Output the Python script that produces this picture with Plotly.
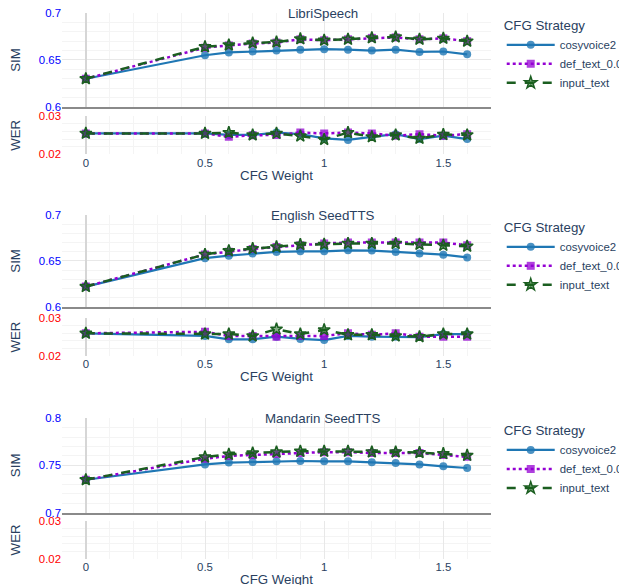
import plotly.graph_objects as go

cfg_weights = [0, 0.5, 0.6, 0.7, 0.8, 0.9, 1.0, 1.1, 1.2, 1.3, 1.4, 1.5, 1.6]
datasets = ["LibriSpeech", "English SeedTTS", "Mandarin SeedTTS"]
strategies = ["cosyvoice2", "def_text_0.08", "input_text"]

# LibriSpeech
libri_sim_cosyvoice2 = [0.630, 0.655, 0.658, 0.659, 0.660, 0.661, 0.6615, 0.661, 0.660, 0.661, 0.6585, 0.659, 0.656]
libri_sim_def_text = [0.630, 0.663, 0.6655, 0.6675, 0.6685, 0.672, 0.671, 0.672, 0.6735, 0.674, 0.672, 0.673, 0.670]
libri_sim_input_text = [0.630, 0.664, 0.666, 0.668, 0.669, 0.6725, 0.671, 0.672, 0.6735, 0.6745, 0.672, 0.673, 0.670]
libri_wer_cosyvoice2 = [0.0255, 0.0255, 0.0251, 0.0251, 0.0257, 0.0253, 0.0242, 0.0238, 0.0246, 0.0253, 0.0240, 0.0249, 0.0240]
libri_wer_def_text = [0.0255, 0.0255, 0.0246, 0.0250, 0.0251, 0.0257, 0.0255, 0.0257, 0.0255, 0.0249, 0.0253, 0.0249, 0.0253]
libri_wer_input_text = [0.0255, 0.0255, 0.0257, 0.0251, 0.0255, 0.0248, 0.0239, 0.0257, 0.0246, 0.0251, 0.0242, 0.0252, 0.0251]

# English SeedTTS
en_sim_cosyvoice2 = [0.622, 0.653, 0.6557, 0.658, 0.6598, 0.6604, 0.6604, 0.6615, 0.6612, 0.6598, 0.658, 0.6568, 0.6538]
en_sim_def_text = [0.622, 0.657, 0.660, 0.663, 0.665, 0.667, 0.669, 0.670, 0.670, 0.670, 0.670, 0.670, 0.667]
en_sim_input_text = [0.622, 0.657, 0.661, 0.6634, 0.6653, 0.6678, 0.668, 0.669, 0.669, 0.669, 0.668, 0.667, 0.666]
en_wer_cosyvoice2 = [0.0260, 0.0253, 0.0244, 0.0244, 0.0251, 0.0245, 0.0242, 0.0253, 0.0251, 0.0251, 0.0250, 0.0258, 0.0258]
en_wer_def_text = [0.0260, 0.0264, 0.0253, 0.0253, 0.0251, 0.0253, 0.0253, 0.0260, 0.0256, 0.0260, 0.0251, 0.0251, 0.0251]
en_wer_input_text = [0.0260, 0.0258, 0.0258, 0.0253, 0.0271, 0.0258, 0.0269, 0.0256, 0.0256, 0.0253, 0.0251, 0.0258, 0.0258]

# Mandarin SeedTTS (no WER values visible in the 0.02-0.03 window)
zh_sim_cosyvoice2 = [0.7348, 0.751, 0.7529, 0.7535, 0.7543, 0.7546, 0.7543, 0.7543, 0.7532, 0.7525, 0.751, 0.749, 0.7472]
zh_sim_def_text = [0.7348, 0.757, 0.760, 0.761, 0.762, 0.763, 0.764, 0.764, 0.763, 0.763, 0.763, 0.761, 0.759]
zh_sim_input_text = [0.7348, 0.7588, 0.7617, 0.7631, 0.7642, 0.7649, 0.7649, 0.7649, 0.7642, 0.7642, 0.7635, 0.7624, 0.7606]

sim_data = [
    [libri_sim_cosyvoice2, libri_sim_def_text, libri_sim_input_text],
    [en_sim_cosyvoice2, en_sim_def_text, en_sim_input_text],
    [zh_sim_cosyvoice2, zh_sim_def_text, zh_sim_input_text],
]
wer_data = [
    [libri_wer_cosyvoice2, libri_wer_def_text, libri_wer_input_text],
    [en_wer_cosyvoice2, en_wer_def_text, en_wer_input_text],
    None,
]
sim_ranges = [[0.6, 0.7], [0.6, 0.7], [0.7, 0.8]]
wer_range = [0.02, 0.03]

styles = [
    dict(line=dict(color="#1f77b4", width=2.2, dash="solid"),
         marker=dict(symbol="circle", size=8, color="rgba(31,119,180,0.8)")),
    dict(line=dict(color="darkviolet", width=2.5, dash="dot"),
         marker=dict(symbol="square", size=8, color="rgba(148,0,211,0.75)")),
    dict(line=dict(color="#1b5e20", width=2.5, dash="dash"),
         marker=dict(symbol="star", size=9, color="rgba(20,100,20,0.5)",
                     line=dict(color="#1b5e20", width=1.5))),
]

# domains (paper coords) for SIM / WER rows of each panel
sim_domains = [[0.828, 1.0], [0.462, 0.630], [0.085, 0.258]]
wer_domains = [[0.741, 0.811], [0.372, 0.441], [0.0, 0.070]]

FONT = "Liberation Sans, Arial, sans-serif"
TXT = "#2a3f5f"
GRID = "#e8e8e8"
MINOR = "#f4f4f4"
ZERO = "#d6d6d6"

fig = go.Figure()
layout = dict(
    width=627, height=585,
    margin=dict(l=54, r=144, t=5, b=34, autoexpand=False),
    paper_bgcolor="white", plot_bgcolor="white",
    font=dict(family=FONT, size=11.4, color=TXT),
    annotations=[],
)

legend_names = ["legend", "legend2", "legend3"]

for p in range(3):
    sx = 2 * p + 1
    wx = 2 * p + 2
    sx_name = "x" if sx == 1 else f"x{sx}"
    sy_name = "y" if sx == 1 else f"y{sx}"
    wx_name = f"x{wx}"
    wy_name = f"y{wx}"
    for s in range(3):
        fig.add_trace(go.Scatter(
            x=cfg_weights, y=sim_data[p][s], mode="lines+markers",
            name=strategies[s], line=styles[s]["line"], marker=styles[s]["marker"],
            xaxis=sx_name, yaxis=sy_name, legend=legend_names[p],
            showlegend=True,
        ))
    if wer_data[p] is not None:
        for s in range(3):
            fig.add_trace(go.Scatter(
                x=cfg_weights, y=wer_data[p][s], mode="lines+markers",
                name=strategies[s], line=styles[s]["line"], marker=styles[s]["marker"],
                xaxis=wx_name, yaxis=wy_name, legend=legend_names[p],
                showlegend=False,
            ))
    else:
        # empty trace so the (empty) WER subplot is still drawn
        fig.add_trace(go.Scatter(x=[None], y=[None], mode="lines", xaxis=wx_name,
                                 yaxis=wy_name, showlegend=False, hoverinfo="skip"))

    common_x = dict(
        range=[-0.1, 1.7], tick0=0, dtick=0.5, showgrid=True, gridcolor=GRID,
        gridwidth=1, minor=dict(dtick=0.1, showgrid=True, gridcolor=MINOR),
        zeroline=True, zerolinecolor=ZERO, zerolinewidth=2, ticks="",
        automargin=False, domain=[0, 1],
    )
    ax_s = dict(common_x, anchor=sy_name, showticklabels=False,
                showline=True, linecolor="#8a8a8a", linewidth=1.5)
    ax_w = dict(common_x, anchor=wy_name, showticklabels=True,
                tickfont=dict(size=11.4, color=TXT), ticklabeloverflow="allow",
                title=dict(text="CFG Weight", font=dict(size=13.3, color=TXT), standoff=2))
    ay_s = dict(range=sim_ranges[p], dtick=0.05, tick0=0, showgrid=True, gridcolor=GRID,
                minor=dict(dtick=0.01, showgrid=True, gridcolor=MINOR),
                zeroline=False, ticks="", automargin=False, anchor=sx_name,
                ticklabeloverflow="allow",
                domain=sim_domains[p], tickfont=dict(size=11.4, color="blue"),
                title=dict(text="SIM", font=dict(size=13.3, color=TXT)))
    ay_w = dict(range=wer_range, dtick=0.01, tick0=0, showgrid=True, gridcolor=GRID,
                minor=dict(dtick=0.002, showgrid=True, gridcolor=MINOR),
                zeroline=False, ticks="", automargin=False, anchor=wx_name,
                ticklabeloverflow="allow",
                domain=wer_domains[p], tickfont=dict(size=11.4, color="red"),
                title=dict(text="WER", font=dict(size=13.3, color=TXT)))
    layout["xaxis" if sx == 1 else f"xaxis{sx}"] = ax_s
    layout["yaxis" if sx == 1 else f"yaxis{sx}"] = ay_s
    layout[f"xaxis{wx}"] = ax_w
    layout[f"yaxis{wx}"] = ay_w

    layout["annotations"].append(dict(
        text=datasets[p], xref="paper", yref="paper", x=0.608, y=sim_domains[p][1],
        xanchor="center", yanchor="middle", showarrow=False,
        font=dict(size=13.3, color=TXT),
    ))
    layout[legend_names[p]] = dict(
        x=1.025, xanchor="left", y=sim_domains[p][1], yanchor="top",
        title=dict(text="CFG Strategy", font=dict(size=13.3, color=TXT)),
        font=dict(size=11.4, color=TXT), itemwidth=48, bgcolor="rgba(0,0,0,0)",
        tracegroupgap=0,
    )

fig.update_layout(**layout)
fig.write_html("out.html")
